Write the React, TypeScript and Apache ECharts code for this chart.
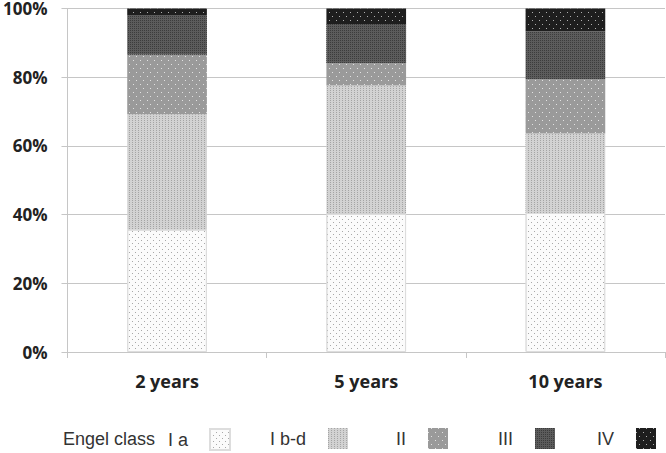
import React, { useEffect, useRef } from "react";
import * as echarts from "echarts";

const categories = ["2 years", "5 years", "10 years"];
const seriesNames = ["I a", "I b-d", "II", "III", "IV"];
const classIa = [35.6, 40.2, 40.5];
const classIbd = [33.6, 37.4, 23.1];
const classII = [17.3, 6.5, 15.9];
const classIII = [11.6, 11.4, 13.9];
const classIV = [1.9, 4.5, 6.6];
const yTicks = [0, 20, 40, 60, 80, 100];
const legendTitle = "Engel class";

const values = [classIa, classIbd, classII, classIII, classIV];

const styles = [
  { color: "#fbfbfb", decal: { symbol: "rect", symbolSize: 1, color: "#a8a8a8", dashArrayX: [[1, 5], [0, 3, 1, 2]], dashArrayY: [1, 2] }, border: "#dddddd" },
  { color: "#d2d2d2", decal: { symbol: "rect", symbolSize: 1, color: "#a4a4a4", dashArrayX: [1, 2], dashArrayY: [1, 1] }, border: "#d2d2d2" },
  { color: "#9a9a9a", decal: { symbol: "rect", symbolSize: 1, color: "#e2e2e2", dashArrayX: [[1, 6], [0, 3, 1, 3]], dashArrayY: [1, 3] }, border: "#9a9a9a" },
  { color: "#5c5c5c", decal: { symbol: "rect", symbolSize: 1, color: "#3c3c3c", dashArrayX: [1, 1], dashArrayY: [1, 1] }, border: "#5c5c5c" },
  { color: "#1e1e1e", decal: { symbol: "rect", symbolSize: 1, color: "#b0b0b0", dashArrayX: [[1, 6], [0, 3, 1, 3]], dashArrayY: [1, 3] }, border: "#1e1e1e" },
];

const legendLeft = [168, 270, 396, 498, 597];

export default function App() {
  const ref = useRef<HTMLDivElement>(null);
  useEffect(() => {
    if (!ref.current) return;
    const chart = echarts.init(ref.current, null, { renderer: "svg" });
    const font = "'Open Sans', 'DejaVu Sans', sans-serif";
    const legendFont = "'Liberation Sans', Arial, sans-serif";
    chart.setOption({
      animation: false,
      backgroundColor: "#ffffff",
      grid: { left: 65, right: 1, top: 6, bottom: 101, containLabel: false },
      xAxis: {
        type: "category",
        data: categories,
        axisLine: { show: true, lineStyle: { color: "#c6c6c6", width: 1 } },
        axisTick: { show: true, length: 6, lineStyle: { color: "#c6c6c6" } },
        axisLabel: { color: "#222", fontFamily: font, fontWeight: "bold", fontSize: 18, margin: 20 },
        splitLine: { show: false },
      },
      yAxis: {
        type: "value",
        min: yTicks[0],
        max: yTicks[yTicks.length - 1],
        interval: yTicks[1] - yTicks[0],
        axisLine: { show: true, lineStyle: { color: "#c6c6c6", width: 1 } },
        axisTick: { show: true, length: 6, lineStyle: { color: "#c6c6c6" } },
        axisLabel: { color: "#222", fontFamily: font, fontWeight: "bold", fontSize: 17, margin: 20, formatter: "{value}%" },
        splitLine: { show: true, lineStyle: { color: "#c6c6c6", width: 1 } },
      },
      aria: { enabled: false, decal: { show: true } },
      legend: seriesNames.map((n, i) => ({
        data: [n],
        left: legendLeft[i],
        top: 428,
        padding: 0,
        align: "right",
        itemWidth: 20,
        itemHeight: 21,
        icon: "rect",
        textStyle: { color: "#333", fontFamily: legendFont, fontSize: 18, padding: [0, 17, 0, 0] },
        selectedMode: false,
      })),
      graphic: [
        {
          type: "text",
          left: 63,
          top: 428,
          style: { text: legendTitle, fill: "#333", font: `18px ${legendFont}`, lineHeight: 21, verticalAlign: "top" },
        },
      ],
      series: seriesNames.map((n, i) => ({
        name: n,
        type: "bar",
        stack: "total",
        barWidth: "40%",
        data: values[i],
        itemStyle: { color: styles[i].color, decal: styles[i].decal, borderColor: styles[i].border, borderWidth: i === 0 ? 1 : 0 },
        emphasis: { disabled: true },
      })),
    });
    return () => chart.dispose();
  }, []);
  return <div ref={ref} style={{ width: 666, height: 453, position: "absolute", left: 0, top: 0 }} />;
}
